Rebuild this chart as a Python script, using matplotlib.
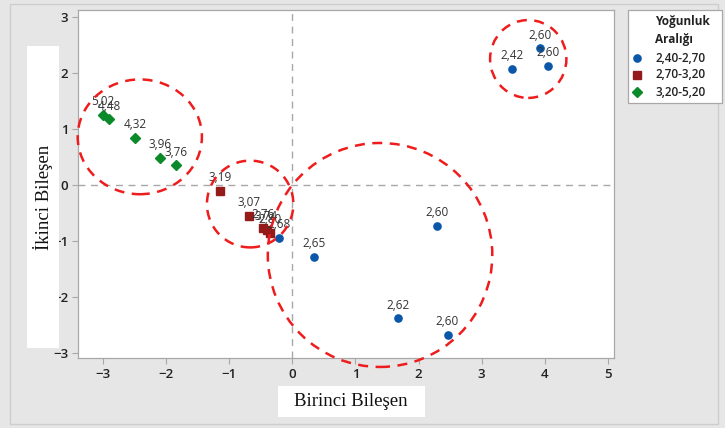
import matplotlib
matplotlib.use("Agg")
import matplotlib.pyplot as plt
from matplotlib.patches import Ellipse, Rectangle
from matplotlib.lines import Line2D

# Principal component scores grouped by density range
group_names = ["2,40-2,70", "2,70-3,20", "3,20-5,20"]
group_colors = ["#0a56a8", "#951b1b", "#0b8a2a"]
group_markers = ["o", "s", "D"]
group_sizes = [5.2, 5.8, 5.4]

blue_x = [3.93, 4.05, 3.49, 2.30, 1.68, 2.46, 0.35, -0.21]
blue_y = [2.44, 2.13, 2.07, -0.73, -2.38, -2.68, -1.28, -0.94]
blue_lbl = ["2,60", "2,60", "2,42", "2,60", "2,62", "2,60", "2,65", "2,68"]

red_x = [-1.15, -0.69, -0.46, -0.41, -0.35]
red_y = [-0.11, -0.55, -0.77, -0.80, -0.86]
red_lbl = ["3,19", "3,07", "2,76", "3,74", "2,80"]

green_x = [-3.00, -2.91, -2.50, -2.10, -1.85]
green_y = [1.25, 1.17, 0.84, 0.49, 0.35]
green_lbl = ["5,02", "4,48", "4,32", "3,96", "3,76"]

series = [(blue_x, blue_y, blue_lbl), (red_x, red_y, red_lbl), (green_x, green_y, green_lbl)]

# Cluster outlines: centre x, centre y, width, height
ell_cx = [-2.42, -0.67, 1.39, 3.74]
ell_cy = [0.86, -0.34, -1.25, 2.25]
ell_w = [1.97, 1.37, 3.56, 1.21]
ell_h = [2.05, 1.55, 4.00, 1.39]

x_ticks = [-3, -2, -1, 0, 1, 2, 3, 4, 5]
y_ticks = [-3, -2, -1, 0, 1, 2, 3]

W, H = 725, 428
fig = plt.figure(figsize=(W / 100, H / 100), dpi=100, facecolor="#e6e6e6")
fig.add_artist(Rectangle((10 / W, 4 / H), 708 / W, 420 / H, transform=fig.transFigure,
                         fill=False, edgecolor="#cdcdcd", lw=1))

ax = fig.add_axes([78 / W, 1 - 358 / H, (614 - 78) / W, (358 - 10) / H])
ax.set_xlim(-3.40, 5.10)
ax.set_ylim(-3.09, 3.125)
ax.set_facecolor("white")
for s in ax.spines.values():
    s.set_color("#a8a8a8")
    s.set_linewidth(0.9)
ax.set_xticks(x_ticks)
ax.set_yticks(y_ticks)
ax.tick_params(length=4, width=0.8, color="#a8a8a8", labelsize=9.5, labelcolor="#222222", pad=3)
for t in ax.get_xticklabels() + ax.get_yticklabels():
    t.set_fontfamily("Open Sans")
    t.set_fontweight("semibold")

ax.axhline(0, color="#a8a8a8", lw=1, ls=(0, (5, 4)), zorder=1)
ax.axvline(0, color="#a8a8a8", lw=1, ls=(0, (5, 4)), zorder=1)

for (xs, ys, lbls), c, m, ms in zip(series, group_colors, group_markers, group_sizes):
    ax.plot(xs, ys, ls="none", marker=m, color=c, markersize=ms, zorder=3)
    for x, y, t in zip(xs, ys, lbls):
        ax.annotate(t, (x, y), xytext=(0, 9.5), textcoords="offset points",
                    ha="center", va="center", fontsize=8.5, color="#333333",
                    family="Open Sans", zorder=4)

for cx, cy, w, h in zip(ell_cx, ell_cy, ell_w, ell_h):
    ax.add_patch(Ellipse((cx, cy), w, h, fill=False, edgecolor="#ee1c1c", lw=1.8,
                         ls=(0, (4, 3)), clip_on=False, zorder=5))

# Axis titles on white panels
fig.add_artist(Rectangle((27 / W, 1 - 348 / H), 32 / W, 302 / H, transform=fig.transFigure,
                         facecolor="white", edgecolor="none"))
fig.text(43 / W, 1 - 197 / H, "İkinci Bileşen", rotation=90, ha="center", va="center",
         fontsize=13.5, family="Liberation Serif", color="#111111")
fig.add_artist(Rectangle((278 / W, 1 - 417 / H), 147 / W, 31 / H, transform=fig.transFigure,
                         facecolor="white", edgecolor="none"))
fig.text(351 / W, 1 - 401 / H, "Birinci Bileşen", ha="center", va="center",
         fontsize=13.5, family="Liberation Serif", color="#111111")

# Legend panel
fig.add_artist(Rectangle((628 / W, 1 - 103 / H), 94 / W, 93 / H, transform=fig.transFigure,
                         facecolor="white", edgecolor="#a8a8a8", lw=0.9))
fig.text(655 / W, 1 - 22 / H, "Yoğunluk", ha="left", va="center", fontsize=8.5,
         fontweight="bold", family="Open Sans", color="#222222")
fig.text(655 / W, 1 - 39 / H, "Aralığı", ha="left", va="center", fontsize=8.5,
         fontweight="bold", family="Open Sans", color="#222222")
for i, (name, c, m, ms) in enumerate(zip(group_names, group_colors, group_markers, group_sizes)):
    yy = 1 - (58 + 17 * i) / H
    fig.add_artist(Line2D([637 / W], [yy], transform=fig.transFigure, ls="none",
                          marker=m, color=c, markersize=ms))
    fig.text(655 / W, yy, name, ha="left", va="center", fontsize=8.5,
             fontweight="semibold", family="Open Sans", color="#222222")

fig.savefig("out.png", dpi=100, facecolor=fig.get_facecolor())
